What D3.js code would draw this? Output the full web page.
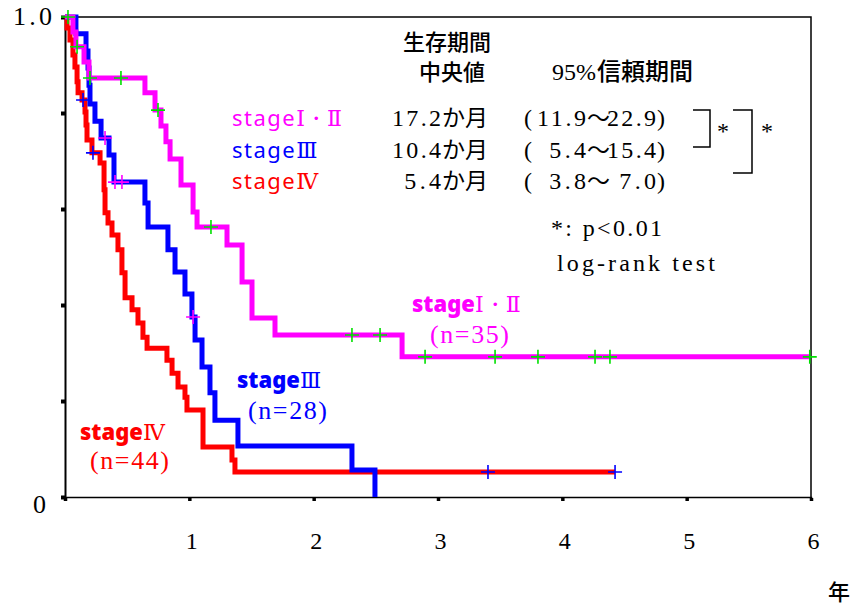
<!DOCTYPE html>
<html>
<head>
<meta charset="utf-8">
<script src="https://cdn.jsdelivr.net/npm/d3@7"></script>
<style>
  body { margin: 0; background: #fff; }
  svg { display: block; }
</style>
</head>
<body>
<svg id="chart" width="854" height="606"></svg>
<script>
// Kaplan-Meier overall survival by stage.
// Each curve: drop times (years), survival right after each drop, censor times, follow-up end.
const stage12Times = [0.064, 0.088, 0.153, 0.193, 0.643, 0.724, 0.772, 0.812, 0.845, 0.933, 1.030, 1.062, 1.303, 1.424, 1.504, 1.689, 2.711];
const stage12Surv  = [0.969, 0.938, 0.906, 0.873, 0.842, 0.806, 0.773, 0.740, 0.704, 0.650, 0.594, 0.5625, 0.525, 0.448, 0.373, 0.3375, 0.292];
const stage12Censor = [0.024, 0.097, 0.201, 0.450, 0.748, 1.174, 2.308, 2.534, 2.896, 3.459, 3.804, 4.263, 4.383, 5.99];
const stage12End = 5.99;

const stage3Times = [0.088, 0.169, 0.185, 0.193, 0.201, 0.241, 0.290, 0.354, 0.394, 0.643, 0.668, 0.828, 0.885, 0.965, 1.021, 1.046, 1.102, 1.166, 1.206, 1.391, 2.308, 2.493];
const stage3Surv  = [0.965, 0.929, 0.894, 0.858, 0.819, 0.783, 0.748, 0.7125, 0.656, 0.6125, 0.5625, 0.515, 0.469, 0.423, 0.375, 0.327, 0.271, 0.217, 0.160, 0.106, 0.056, 0];
const stage3Censor = [0.322, 0.402, 0.458, 1.030];
const stage3End = 2.493;

const stage4Times = [0.016, 0.040, 0.064, 0.080, 0.097, 0.105, 0.137, 0.161, 0.169, 0.177, 0.217, 0.282, 0.314, 0.322, 0.346, 0.378, 0.426, 0.458, 0.483, 0.539, 0.587, 0.627, 0.660, 0.820, 0.861, 0.909, 0.965, 0.981, 1.110, 1.343, 1.367];
const stage4Surv  = [0.977, 0.952, 0.921, 0.896, 0.865, 0.842, 0.827, 0.802, 0.775, 0.744, 0.717, 0.696, 0.640, 0.592, 0.571, 0.546, 0.515, 0.467, 0.415, 0.390, 0.3625, 0.333, 0.310, 0.285, 0.258, 0.229, 0.208, 0.181, 0.104, 0.077, 0.052];
const stage4Censor = [0.145, 0.225, 3.402, 4.424];
const stage4End = 4.424;

// Summary table
const groupNames = ["stageⅠ・Ⅱ", "stageⅢ", "stageⅣ"];
const groupSizes = [35, 28, 44];
const medianMonths = ["17.2", "10.4", "5.4"];
const ciLow = ["11.9", "5.4", "3.8"];
const ciHigh = ["22.9", "15.4", "7.0"];

const xTickValues = [0, 1, 2, 3, 4, 5, 6];
const xTickLabels = ["", "1", "2", "3", "4", "5", "6"];
const yTickValues = [0, 0.2, 0.4, 0.6, 0.8, 1.0];
const yTickLabels = ["0", "", "", "", "", "1.0"];

const lineColors = ["#ff00ff", "#0000ff", "#ff0000"];
const censorColors = ["#00e000", "#ff00ff", "#0000ff"];

const svg = d3.select("#chart");
const x = d3.scaleLinear().domain([0, 6]).range([65, 811]);
const y = d3.scaleLinear().domain([0, 1]).range([497, 17]);

const serif = "'Liberation Serif', 'Noto Sans CJK JP', serif";
const cjk = "'Noto Sans CJK JP', sans-serif";
const roman = "'DejaVu Serif', 'Liberation Serif', serif";
// half-width character advance used for the serif labels
const half = 12.25;
const w = s => s.length * half;

// frame: top and right edges
svg.append("path")
  .attr("d", `M${x(0)},${y(1)}H${x(6)}V${y(0)}`)
  .attr("fill", "none").attr("stroke", "#000").attr("stroke-width", 1.5);

// axes
const yAxis = svg.append("g")
  .attr("transform", `translate(${x(0)},0)`)
  .call(d3.axisLeft(y).tickValues(yTickValues).tickSize(4).tickPadding(14)
    .tickFormat((d, i) => yTickLabels[i]));
yAxis.select(".domain").attr("stroke", "#000").attr("stroke-width", 2);
yAxis.selectAll(".tick line").attr("stroke", "#000").attr("stroke-width", 4);
yAxis.selectAll(".tick text")
  .attr("font-family", serif).attr("font-size", 26).attr("fill", "#000")
  .attr("dy", (d) => d === 0 ? "0.6em" : "0.3em")
  .attr("x", (d) => d === 0 ? -19 : -13)
  .filter(d => d === 1)
  .attr("textLength", 39).attr("lengthAdjust", "spacing");

const xAxis = svg.append("g")
  .attr("transform", `translate(0,${y(0)})`)
  .call(d3.axisBottom(x).tickValues(xTickValues).tickSize(4).tickPadding(31)
    .tickFormat((d, i) => xTickLabels[i]));
xAxis.select(".domain").attr("stroke", "#000").attr("stroke-width", 1.5);
xAxis.selectAll(".tick line").attr("stroke", "#000").attr("stroke-width", 3.5).attr("y1", 1);
xAxis.selectAll(".tick text")
  .attr("font-family", serif).attr("font-size", 24).attr("fill", "#000")
  .attr("dx", 2);

// year unit
svg.append("text").attr("x", 839).attr("y", 600)
  .attr("text-anchor", "middle")
  .attr("font-family", cjk).attr("font-weight", 500).attr("font-size", 22)
  .text("年");

// curves
function stepPoints(times, surv, end) {
  const pts = [[0, 1]];
  times.forEach((t, i) => pts.push([t, surv[i]]));
  pts.push([end, surv[surv.length - 1]]);
  return pts;
}
function survAt(times, surv, t) {
  let s = 1;
  times.forEach((tt, i) => { if (tt <= t) s = surv[i]; });
  return s;
}
const groups = [
  { times: stage12Times, surv: stage12Surv, censor: stage12Censor, end: stage12End },
  { times: stage3Times, surv: stage3Surv, censor: stage3Censor, end: stage3End },
  { times: stage4Times, surv: stage4Surv, censor: stage4Censor, end: stage4End }
];
const line = d3.line().x(d => x(d[0])).y(d => y(d[1])).curve(d3.curveStepAfter);

// draw order: stage IV, stage III, stage I-II
[2, 1, 0].forEach(gi => {
  const g = groups[gi];
  svg.append("path")
    .attr("d", line(stepPoints(g.times, g.surv, g.end)))
    .attr("fill", "none")
    .attr("stroke", lineColors[gi])
    .attr("stroke-width", 5)
    .attr("stroke-linejoin", "miter");
});
[2, 1, 0].forEach(gi => {
  const g = groups[gi];
  svg.append("g").selectAll("path")
    .data(g.censor)
    .join("path")
    .attr("d", t => {
      const cx = x(t), cy = y(survAt(g.times, g.surv, t));
      return `M${cx - 7},${cy}H${cx + 7}M${cx},${cy - 7}V${cy + 7}`;
    })
    .attr("stroke", censorColors[gi])
    .attr("stroke-width", 1.6)
    .attr("fill", "none");
});

// summary block
svg.append("text").attr("x", 447).attr("y", 50).attr("text-anchor", "middle")
  .attr("font-family", cjk).attr("font-weight", 500).attr("font-size", 22).text("生存期間");
svg.append("text").attr("x", 452).attr("y", 80).attr("text-anchor", "middle")
  .attr("font-family", cjk).attr("font-weight", 500).attr("font-size", 22).text("中央値");
svg.append("text").attr("y", 80)
  .attr("font-family", serif).attr("font-size", 24)
  .call(t => {
    t.append("tspan").attr("x", 552).text("95%");
    t.append("tspan").attr("x", 597).attr("font-family", cjk).attr("font-weight", 500).attr("font-size", 24).text("信頼期間");
  });

const rowY = [126, 158, 189];
groupNames.forEach((name, i) => {
  const nm = svg.append("text").attr("x", 232).attr("y", rowY[i])
    .attr("fill", lineColors[i]).attr("font-size", 22);
  nm.append("tspan").attr("font-family", "'Noto Sans', sans-serif").attr("letter-spacing", 1.5).text("stage");
  nm.append("tspan").attr("font-family", roman).text(name.slice(5));

  svg.append("text").attr("y", rowY[i])
    .attr("font-family", serif).attr("font-size", 24)
    .call(t => {
      t.append("tspan").attr("x", 441 - w(medianMonths[i]))
        .attr("textLength", w(medianMonths[i])).attr("lengthAdjust", "spacing")
        .text(medianMonths[i]);
      t.append("tspan").attr("x", 442).attr("font-family", cjk).attr("font-size", 23).text("か月");
    });

  const ci = svg.append("text").attr("y", rowY[i])
    .attr("font-family", serif).attr("font-size", 24);
  ci.append("tspan").attr("x", 524).text("(");
  ci.append("tspan").attr("x", 586 - w(ciLow[i]))
    .attr("textLength", w(ciLow[i])).attr("lengthAdjust", "spacing").text(ciLow[i]);
  ci.append("tspan").attr("x", 587).attr("font-family", cjk).attr("font-size", 23).text("〜");
  ci.append("tspan").attr("x", 656 - w(ciHigh[i]))
    .attr("textLength", w(ciHigh[i])).attr("lengthAdjust", "spacing").text(ciHigh[i]);
  ci.append("tspan").attr("x", 657).text(")");
});

// significance brackets
svg.append("path").attr("d", "M693,110H710V147H693M733,110H752V173H733")
  .attr("fill", "none").attr("stroke", "#000").attr("stroke-width", 1.5);
svg.append("text").attr("x", 723).attr("y", 139).attr("text-anchor", "middle")
  .attr("font-family", serif).attr("font-size", 24).text("*");
svg.append("text").attr("x", 767).attr("y", 139).attr("text-anchor", "middle")
  .attr("font-family", serif).attr("font-size", 24).text("*");
svg.append("text").attr("x", 551).attr("y", 236)
  .attr("font-family", serif).attr("font-size", 24)
  .attr("textLength", 111).attr("lengthAdjust", "spacing").text("*: p<0.01");
svg.append("text").attr("x", 557).attr("y", 271)
  .attr("font-family", serif).attr("font-size", 24)
  .attr("textLength", 158).attr("lengthAdjust", "spacing").text("log-rank test");

// inline curve labels
const labelPos = [[412, 312, 430, 343], [237, 388, 248, 419], [80, 440, 90, 469]];
groupNames.forEach((name, i) => {
  const [lx, ly, nx, ny] = labelPos[i];
  const t = svg.append("text").attr("x", lx).attr("y", ly)
    .attr("fill", lineColors[i]).attr("font-size", 22);
  t.append("tspan").attr("font-family", "'Noto Sans', sans-serif").attr("font-weight", 900).text("stage");
  t.append("tspan").attr("font-family", roman).text(name.slice(5));
  svg.append("text").attr("x", nx).attr("y", ny)
    .attr("fill", lineColors[i]).attr("font-family", serif).attr("font-size", 26)
    .attr("textLength", 79).attr("lengthAdjust", "spacing")
    .text(`(n=${groupSizes[i]})`);
});
</script>
</body>
</html>
